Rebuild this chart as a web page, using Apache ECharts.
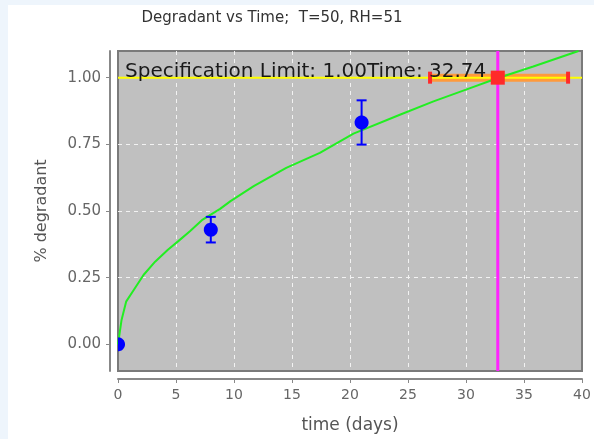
<!DOCTYPE html>
<html>
<head>
<meta charset="utf-8">
<script src="https://cdn.jsdelivr.net/npm/echarts@6/dist/echarts.min.js"></script>
<style>
    html, body { margin: 0; padding: 0; background: #eef5fc; }
    #chart { position: absolute; left: 8px; top: 5px; width: 586px; height: 434px; background: #fff; }
</style>
</head>
<body>
<div id="chart"></div>
<script>
// measured points: time (days), % degradant, error half-width
var pointTime = [0, 8, 21];
var pointValue = [0.0, 0.43, 0.832];
var pointErr = [0.0, 0.048, 0.083];

// fitted curve
var curveTime = [0, 0.3, 0.7, 1.3, 2.2, 3.2, 4.3, 5.2, 6.2, 7.3, 8.8, 9.7, 11.7, 14.5, 17.4, 20.3, 24.3, 27.2, 30, 32.7, 35.8, 39.7];
var curveValue = [0, 0.09, 0.16, 0.2, 0.26, 0.31, 0.355, 0.387, 0.424, 0.468, 0.508, 0.537, 0.593, 0.662, 0.718, 0.79, 0.861, 0.911, 0.955, 0.998, 1.042, 1.1];

// spec limit and time estimate (with range)
var specLimit = 1.0;
var timeEst = 32.74;
var timeLow = 26.9;
var timeHigh = 38.8;

var yTicks = [0, 0.25, 0.5, 0.75, 1.0];

var font = 'DejaVu Sans';

var chart = echarts.init(document.getElementById('chart'));

// circle as polygon, cut to the plot area (keeps the half dot at t=0)
function clippedDot(cx, cy, r, cs) {
    var pts = [];
    for (var k = 0; k < 48; k++) {
        var a = k / 48 * Math.PI * 2;
        var x = cx + r * Math.cos(a), y = cy + r * Math.sin(a);
        x = Math.min(Math.max(x, cs.x), cs.x + cs.width);
        y = Math.min(Math.max(y, cs.y), cs.y + cs.height);
        pts.push([x, y]);
    }
    return { type: 'polygon', shape: { points: pts }, style: { fill: '#0000ff' } };
}

function renderPoint(params, api) {
    var t = api.value(0), v = api.value(1), e = api.value(2);
    var c = api.coord([t, v]);
    var children = [];
    if (e > 0) {
        var hi = api.coord([t, v + e]);
        var lo = api.coord([t, v - e]);
        var st = { stroke: '#0000ff', lineWidth: 2 };
        children.push({ type: 'line', shape: { x1: c[0], y1: hi[1], x2: c[0], y2: lo[1] }, style: st });
        children.push({ type: 'line', shape: { x1: c[0] - 5, y1: hi[1], x2: c[0] + 5, y2: hi[1] }, style: st });
        children.push({ type: 'line', shape: { x1: c[0] - 5, y1: lo[1], x2: c[0] + 5, y2: lo[1] }, style: st });
    }
    children.push(clippedDot(c[0], c[1], 7, params.coordSys));
    return { type: 'group', children: children };
}

function renderRange(params, api) {
    var lo = api.coord([api.value(1), api.value(3)]);
    var hi = api.coord([api.value(2), api.value(3)]);
    return { type: 'line', shape: { x1: lo[0], y1: lo[1], x2: hi[0], y2: hi[1] }, style: { stroke: '#ff9a3c', lineWidth: 8 } };
}

function renderCaps(params, api) {
    var c = api.coord([api.value(0), api.value(3)]);
    var lo = api.coord([api.value(1), api.value(3)]);
    var hi = api.coord([api.value(2), api.value(3)]);
    return {
        type: 'group',
        children: [
            { type: 'rect', shape: { x: lo[0] - 2, y: lo[1] - 6, width: 4, height: 12 }, style: { fill: '#ff2a2a' } },
            { type: 'rect', shape: { x: hi[0] - 2, y: hi[1] - 6, width: 4, height: 12 }, style: { fill: '#ff2a2a' } },
            { type: 'rect', shape: { x: c[0] - 7, y: c[1] - 7, width: 14, height: 14 }, style: { fill: '#ff2a2a' } }
        ]
    };
}

var gridLine = { show: true, showMinLine: false, showMaxLine: false, lineStyle: { color: '#f2f2f2', type: [4, 4], width: 1 } };

var option = {
    animation: false,
    backgroundColor: '#fff',
    grid: {
        left: 110, top: 46, width: 464, height: 321,
        show: true,
        backgroundColor: '#c0c0c0',
        borderColor: '#7a7a7a',
        borderWidth: 2
    },
    graphic: [
        {
            type: 'text', x: 264, y: 13, z: 100,
            style: { text: 'Degradant vs Time;  T=50, RH=51', font: '15px ' + font, fill: '#333', textAlign: 'center', textVerticalAlign: 'middle' }
        },
        {
            type: 'text', x: 117, y: 67, z: 100,
            style: { text: 'Specification Limit: ' + specLimit.toFixed(2) + 'Time: ' + timeEst.toFixed(2), font: '20px ' + font, fill: '#1a1a1a', textAlign: 'left', textVerticalAlign: 'middle' }
        }
    ],
    xAxis: {
        type: 'value',
        min: 0, max: 40, interval: 5,
        offset: 8,
        name: 'time (days)',
        nameLocation: 'middle',
        nameGap: 38,
        nameTextStyle: { fontFamily: font, fontSize: 17, color: '#555' },
        axisLine: { show: true, onZero: false, lineStyle: { color: '#888', width: 2 } },
        axisTick: { show: true, length: 4, lineStyle: { color: '#888' } },
        axisLabel: { fontFamily: font, fontSize: 14, color: '#666', margin: 9 },
        splitLine: gridLine
    },
    yAxis: {
        type: 'value',
        min: -0.1, max: 1.1,
        offset: 8,
        name: '% degradant',
        nameLocation: 'middle',
        nameGap: 60,
        nameTextStyle: { fontFamily: font, fontSize: 16, color: '#555' },
        axisLine: { show: true, onZero: false, lineStyle: { color: '#888', width: 2 } },
        axisTick: { show: true, length: 4, lineStyle: { color: '#888' }, customValues: yTicks },
        axisLabel: { fontFamily: font, fontSize: 15, color: '#666', margin: 9, customValues: yTicks, formatter: function (v) { return v.toFixed(2); } },
        splitLine: gridLine
    },
    series: [
        {
            name: 'range',
            type: 'custom',
            z: 2,
            clip: true,
            renderItem: renderRange,
            data: [[timeEst, timeLow, timeHigh, specLimit]]
        },
        {
            name: 'spec',
            type: 'line',
            z: 3,
            showSymbol: false,
            lineStyle: { color: '#ffff00', width: 2 },
            data: [[0, specLimit], [40, specLimit]]
        },
        {
            name: 'fit',
            type: 'line',
            z: 4,
            showSymbol: false,
            lineStyle: { color: '#22ee22', width: 2 },
            data: curveTime.map(function (t, i) { return [t, curveValue[i]]; })
        },
        {
            name: 'time',
            type: 'line',
            z: 5,
            showSymbol: false,
            lineStyle: { color: '#ff22ff', width: 3 },
            data: [[timeEst, -0.1], [timeEst, 1.1]]
        },
        {
            name: 'caps',
            type: 'custom',
            z: 6,
            clip: true,
            renderItem: renderCaps,
            data: [[timeEst, timeLow, timeHigh, specLimit]]
        },
        {
            name: 'data',
            type: 'custom',
            z: 7,
            clip: true,
            renderItem: renderPoint,
            data: pointTime.map(function (t, i) { return [t, pointValue[i], pointErr[i]]; })
        }
    ]
};

chart.setOption(option);
</script>
</body>
</html>
